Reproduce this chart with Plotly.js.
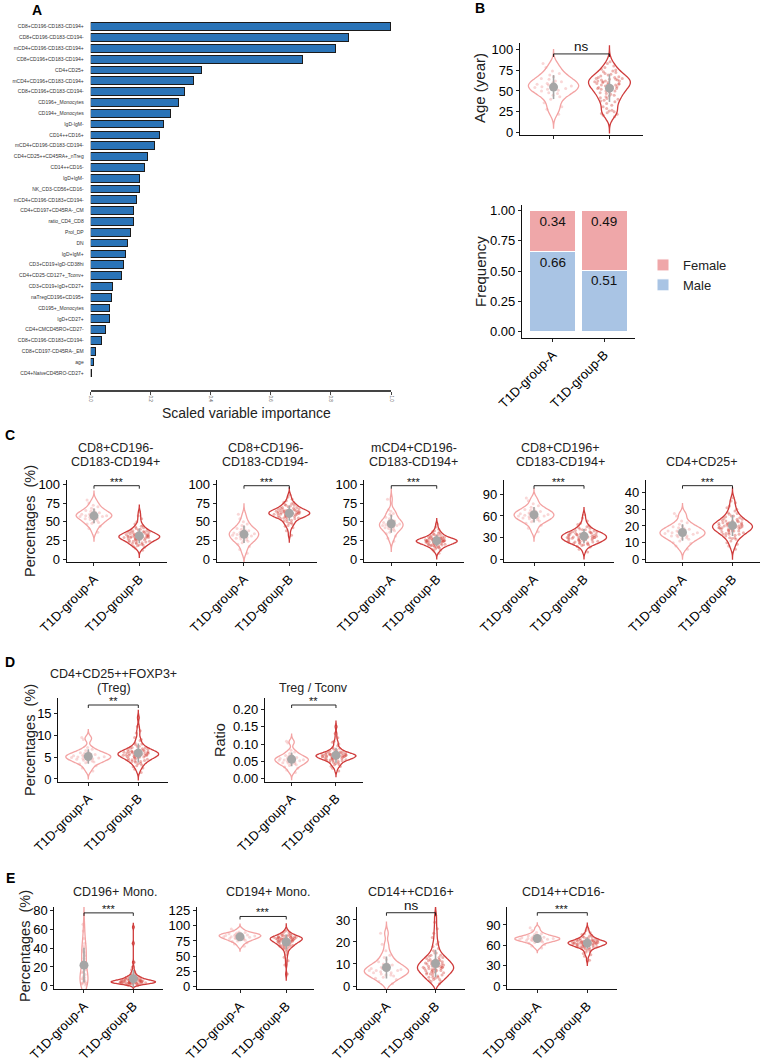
<!DOCTYPE html>
<html><head><meta charset="utf-8">
<script src="https://cdn.plot.ly/plotly-3.0.1.min.js"></script>
<style>html,body{margin:0;padding:0;background:#fff}</style>
</head><body><div id="chart" style="width:767px;height:1064px"></div>
<script>
// ---------------- DATA ----------------
const groups = ['T1D-group-A', 'T1D-group-B'];

const featureNames = ['CD8+CD196-CD183-CD194+','CD8+CD196-CD183-CD194-','mCD4+CD196-CD183-CD194+','CD8+CD196+CD183-CD194+','CD4+CD25+',
 'mCD4+CD196+CD183-CD194+','CD8+CD196+CD183-CD194-','CD196+_Monocytes','CD194+_Monocytes','IgD-IgM-','CD14++CD16+',
 'mCD4+CD196-CD183-CD194-','CD4+CD25++CD45RA+_nTreg','CD14++CD16-','IgD+IgM-','NK_CD3-CD56+CD16-','mCD4+CD196-CD183+CD194-',
 'CD4+CD197+CD45RA-_CM','ratio_CD4_CD8','Prol_DP','DN','IgD+IgM+','CD3+CD19+IgD-CD38hi','CD4+CD25-CD127+_Tconv+',
 'CD3+CD19+IgD+CD27+','naTregCD196+CD195+','CD195+_Monocytes','IgD+CD27+','CD4+CMCD45RO+CD27-','CD8+CD196-CD183+CD194-',
 'CD8+CD197-CD45RA-_EM','age','CD4+NaiveCD45RO-CD27+'];
const importance = [1.00,0.86,0.815,0.705,0.37,0.342,0.312,0.293,0.267,0.243,0.228,0.213,0.19,0.18,0.164,0.163,0.154,
 0.142,0.143,0.131,0.121,0.117,0.11,0.104,0.073,0.069,0.062,0.061,0.05,0.035,0.015,0.008,0.003];

const sexLevels = ['Male', 'Female'];
const maleFreq = [0.66, 0.51];
const femaleFreq = [0.34, 0.49];

const ageA = [22,31,36,40,43,45,47,48,50,51,52,53,54,55,56,57,58,59,60,61,62,64,65,67,69,71,74,78,83,28];
const ageB = [19,21,22,23,24,25,26,27,29,31,33,35,37,38,40,41,42,43,44,45,46,47,48,49,50,51,52,53,54,55,55,56,57,57,58,58,59,59,60,60,61,61,62,62,63,63,64,64,65,65,66,66,67,68,69,70,71,72,73,74,75,76,78,80,83,85,39,50,53,62];

const c1A = [36,41,44,47,49,50,52,53,54,55,56,57,57,58,59,60,61,62,63,64,65,66,68,70,72,75,79,48,60,58];
const c1B = [12,15,17,18,19,20,21,22,22,23,24,24,25,25,26,26,27,27,27,28,28,28,29,29,29,30,30,30,30,31,31,31,32,32,32,33,33,33,34,34,35,35,36,36,37,37,38,39,40,41,42,43,45,47,50,54,58,63,16,19,21,23,26,28,31,34,36,38,44,30];
const c2A = [8,13,17,20,22,24,26,27,29,30,31,32,33,34,35,36,37,38,40,41,43,45,47,50,54,60,28,35,39,25];
const c2B = [32,38,42,45,47,49,50,52,53,54,55,55,56,56,57,57,58,58,59,59,59,60,60,60,61,61,61,62,62,62,63,63,63,64,64,65,65,66,66,67,67,68,68,69,70,71,72,73,74,76,78,80,83,86,44,48,51,54,57,60,62,64,66,69,72,58,61,63,65,75];
const c3A = [24,28,31,34,36,38,40,41,42,43,44,45,46,47,48,49,50,51,52,54,56,58,61,64,60,66,80,39,45,50];
const c3B = [8,11,13,14,15,16,17,18,18,19,19,20,20,21,21,22,22,22,23,23,23,24,24,24,24,25,25,25,25,26,26,26,27,27,27,28,28,29,29,30,30,31,32,33,34,35,36,38,40,43,47,12,16,19,21,23,25,27,29,31,22,24,26,20,28,18,33,37,25,23];
const c4A = [38,43,47,50,52,54,55,57,58,59,60,61,62,63,64,65,66,67,68,70,72,74,77,81,85,56,60,63,53,69];
const c4B = [10,14,17,19,20,21,22,23,24,24,25,25,26,26,27,27,28,28,29,29,30,30,30,31,31,32,32,33,33,34,34,35,35,36,36,37,37,38,38,39,40,41,42,43,44,46,48,50,53,57,62,18,22,26,29,32,35,38,41,24,27,30,33,36,23,28,31,34,45,20];
const c5A = [6,8,9.5,11,12,12.5,13,14,14.5,15,15.5,16,16,16.5,17,17.5,18,18.5,19,20,21,22,23,26,27.5,10,14,17,19.5,13.5];
const c5B = [6,8,10,11,12,13,14,14.5,15,15.5,16,16.5,17,17,17.5,18,18,18.5,19,19,19.5,19.5,20,20,20.5,20.5,21,21,21.5,22,22,22.5,23,23.5,24,24.5,25,26,27,28,29,30,32,34,37,9,12.5,15,17,18.5,20,21.5,23,25.5,13,16,19,22,24,27.5,18,20,21,17,19,23,15,26,31,35];

const d1A = [1.8,2.5,3.0,3.4,3.7,3.9,4.1,4.3,4.5,4.6,4.8,4.9,5.0,5.1,5.2,5.4,5.5,5.6,5.8,6.0,6.2,6.5,6.8,7.2,9.0,9.5,4.0,4.7,5.3,5.9];
const d1B = [1.5,2.2,2.8,3.2,3.5,3.8,4.0,4.2,4.4,4.5,4.7,4.8,5.0,5.0,5.1,5.2,5.3,5.4,5.5,5.5,5.6,5.7,5.8,5.9,6.0,6.0,6.1,6.2,6.3,6.4,6.5,6.6,6.8,7.0,7.2,7.5,7.8,8.2,8.8,9.5,10.5,12.0,14.0,3.0,4.1,4.9,5.6,6.2,7.1,8.0,3.6,4.6,5.3,5.8,6.4,7.4,4.3,5.2,6.0,6.7,2.5,5.5,6.9,4.0,5.0,6.0,9.0,11.0,5.4,6.3];
const d2A = [0.018,0.025,0.030,0.034,0.038,0.041,0.044,0.046,0.048,0.050,0.052,0.053,0.055,0.056,0.058,0.060,0.061,0.063,0.065,0.067,0.070,0.073,0.077,0.082,0.103,0.108,0.045,0.054,0.059,0.040];
const d2B = [0.022,0.030,0.036,0.040,0.044,0.047,0.050,0.052,0.054,0.056,0.058,0.059,0.060,0.061,0.062,0.063,0.064,0.065,0.066,0.067,0.068,0.069,0.070,0.071,0.072,0.073,0.075,0.077,0.079,0.081,0.083,0.086,0.090,0.095,0.100,0.108,0.118,0.130,0.150,0.040,0.048,0.055,0.060,0.065,0.070,0.075,0.082,0.052,0.058,0.063,0.068,0.073,0.060,0.065,0.070,0.035,0.045,0.057,0.066,0.078,0.088,0.062,0.067,0.071,0.056,0.064,0.069,0.074,0.053,0.105];

const e1A = [1,2,2.5,3,3.5,4,5,6,7,8,10,12,14,17,20,23,26,29,32,35,38,40,42,45,50,58,65,9,15,36];
const e1B = [0.5,1,1.5,2,2,2.5,2.5,3,3,3,3.5,3.5,3.5,4,4,4,4,4.5,4.5,4.5,5,5,5,5.5,5.5,6,6,6,6.5,7,7,7.5,8,8,8.5,9,9.5,10,10.5,11,12,13,14,15,17,20,25,45,62,2,3,4,5,6,7,8,9,3,4,5,6,3.5,4.5,5.5,2.5,4,6.5,1.5,10,5];
const e2A = [66,70,72,74,76,77,78,79,80,80,81,82,82,83,84,84,85,85,86,86,87,87,88,89,90,92,95,75,83,79];
const e2B = [20,35,42,48,52,55,58,60,62,63,64,65,66,67,68,69,70,70,71,72,72,73,74,74,75,75,76,76,77,77,78,78,78,79,79,79,80,80,80,81,81,81,82,82,83,83,84,84,85,86,87,88,89,91,93,66,70,73,76,78,80,82,74,77,79,81,75,68,84,72];
const e3A = [1,2,3,3.5,4,4.5,5,5.5,6,6,6.5,7,7,7.5,8,8,8.5,9,9.5,10,11,12,13,14,16,19,24,5,7,10];
const e3B = [1,2,2.5,3,3.5,4,4.5,5,5.5,6,6,6.5,7,7,7.5,7.5,8,8,8.5,8.5,9,9,9.5,10,10,10.5,11,11,11.5,12,12.5,13,13.5,14,15,16,17,18,19,20,22,24,26,29,32,3,5,7,9,11,13,15,4,6,8,10,12,5.5,7,8.5,10,6.5,9,11.5,4,8,14,2,12,9.5];
const e4A = [56,59,61,63,64,65,66,67,67,68,68,69,69,70,70,71,71,72,72,73,74,75,76,77,79,82,86,66,70,73];
const e4B = [38,44,48,51,53,54,55,56,57,58,58,59,59,60,60,61,61,61,62,62,62,63,63,63,64,64,64,65,65,65,66,66,66,67,67,68,68,69,69,70,71,72,73,74,75,77,79,82,85,50,56,60,63,66,70,57,62,65,68,59,64,61,67,63,46,72,58,65,62,76];

const violinSets = [[ageA,ageB],[c1A,c1B],[c2A,c2B],[c3A,c3B],[c4A,c4B],[c5A,c5B],[d1A,d1B],[d2A,d2B],[e1A,e1B],[e2A,e2B],[e3A,e3B],[e4A,e4B]];
const sigLabels = ['ns','***','***','***','***','***','**','**','***','***','ns','***'];
const sigHeights = [94.4, 98.1, 98.1, 98.1, 101.9, 44.2, 16.9, 0.2124, 77, 115.6, 33.3, 108.1];
const panelTitles = [[], ['CD8+CD196-','CD183-CD194+'], ['CD8+CD196-','CD183-CD194-'], ['mCD4+CD196-','CD183-CD194+'],
  ['CD8+CD196+','CD183-CD194+'], ['CD4+CD25+'], ['CD4+CD25++FOXP3+','(Treg)'], ['Treg / Tconv'],
  ['CD196+ Mono.'], ['CD194+ Mono.'], ['CD14++CD16+'], ['CD14++CD16-']];

// ---------------- LAYOUT (positions / styles) ----------------
const W = 767, H = 1064;
const FONT = 'Liberation Sans, Arial, Helvetica, sans-serif';
const fx = p => p / W, fy = p => 1 - p / H;
const COL_A = '#F3A3A3', COL_B = '#CF3B3B', PT_A = '#F19A9A', PT_B = '#D5473F', GREY = '#A6A6A6';

const vp = [
  {box:[520,643,43,135],       xr:[-0.6,1.6],   yr:[-2.8,107.5],    dt:25,   tx:0,   ty:0,   xl:false},
  {box:[66.8,166.5,480,562.3], xr:[-0.6,1.6],   yr:[-4,105.7],      dt:25,   tx:115, ty:462, xl:true},
  {box:[216.8,316.5,480,562.3],xr:[-0.6,1.6],   yr:[-4,105.7],      dt:25,   tx:265, ty:462, xl:true},
  {box:[364,464,480,562.3],    xr:[-0.6,1.6],   yr:[-4,105.7],      dt:25,   tx:414, ty:462, xl:true},
  {box:[504,614,480,562.3],    xr:[-0.6,1.6],   yr:[-4.2,109.8],    dt:30,   tx:560, ty:462, xl:true},
  {box:[646,760,480,562.3],    xr:[-0.73,1.55], yr:[-1.8,47.6],     dt:10,   tx:702, ty:462, xl:true},
  {box:[58.3,168.3,698,781.7], xr:[-0.6,1.6],   yr:[-0.62,18.5],    dt:5,    tx:114, ty:688, xl:true},
  {box:[265,362.6,698,781.7],  xr:[-0.6,1.6],   yr:[-0.0086,0.2326],dt:0.05, tx:313, ty:688, xl:true, fmt:'.2f'},
  {box:[54.4,162.9,907,989.3], xr:[-0.6,1.6],   yr:[-3.5,83.2],     dt:20,   tx:115, ty:892, xl:true},
  {box:[197,314,907,989.3],    xr:[-0.93,1.6],  yr:[-5.2,131.3],    dt:25,   tx:268, ty:892, xl:true},
  {box:[357,465,907,989.3],    xr:[-0.6,1.6],   yr:[-1.5,35.9],     dt:10,   tx:411, ty:892, xl:true},
  {box:[507.3,617.3,907,989.3],xr:[-0.6,1.6],   yr:[-4.9,116.5],    dt:30,   tx:563, ty:892, xl:true}
];

function bwNrd0(arr){
  const n = arr.length, s = [...arr].sort((a,b)=>a-b);
  const m = arr.reduce((a,b)=>a+b,0)/n;
  const sd = Math.sqrt(arr.reduce((a,b)=>a+(b-m)*(b-m),0)/(n-1));
  const q = p => { const h=(n-1)*p, lo=Math.floor(h); return s[lo] + (h-lo)*(s[Math.min(lo+1,n-1)]-s[lo]); };
  let lo = Math.min(sd, (q(0.75)-q(0.25))/1.34); if (!(lo > 0)) lo = sd || 1;
  return 0.9 * lo * Math.pow(n, -0.2);
}
function kdeMax(arr, h){
  const lo = Math.min(...arr) - 3*h, hi = Math.max(...arr) + 3*h; let best = 0;
  for (let i = 0; i <= 300; i++) {
    const x = lo + (hi-lo)*i/300; let s = 0;
    for (const v of arr) { const z = (x-v)/h; s += Math.exp(-0.5*z*z); }
    s /= arr.length * h * Math.sqrt(2*Math.PI); if (s > best) best = s;
  }
  return best;
}
function meanSd(arr){
  const n = arr.length, m = arr.reduce((a,b)=>a+b,0)/n;
  return {m, sd: Math.sqrt(arr.reduce((a,b)=>a+(b-m)*(b-m),0)/(n-1))};
}

const traces = [], annotations = [], shapes = [];
const axLine = {showline:true, linecolor:'#111', linewidth:1.1, ticks:'outside', ticklen:3, tickwidth:1, tickcolor:'#222',
                showgrid:false, zeroline:false, fixedrange:true};

const layout = {
  width:W, height:H, margin:{l:0,r:0,t:0,b:0}, paper_bgcolor:'#fff', plot_bgcolor:'rgba(0,0,0,0)',
  font:{family:FONT, color:'#000'}, barmode:'stack', showlegend:true,
  legend:{x:fx(643), y:fy(250), xanchor:'left', yanchor:'top', traceorder:'reversed', font:{size:13, color:'#222'},
          bgcolor:'rgba(0,0,0,0)', itemclick:false, tracegroupgap:0}
};

// Panel A: variable importance
traces.push({type:'bar', orientation:'h', x:importance, y:featureNames, xaxis:'x', yaxis:'y', width:0.72,
  marker:{color:'#2A74B8', line:{color:'#1b1b1b', width:1}}, showlegend:false, hoverinfo:'skip'});
layout.xaxis = Object.assign({}, axLine, {domain:[fx(90.7), fx(391)], anchor:'y', range:[0,1], dtick:0.2, tick0:0,
  tickformat:'.1f', tickangle:90, tickfont:{size:4.5, color:'#555'}, linecolor:'#444', linewidth:1.5, tickcolor:'#444'});
layout.yaxis = {domain:[fy(390), fy(20)], anchor:'x', type:'category', categoryorder:'array', categoryarray:featureNames,
  range:[33.58,-0.62], tickmode:'linear', tick0:0, dtick:1, ticks:'', showline:false, showgrid:false, zeroline:false,
  ticklabelstandoff:6, tickfont:{size:5, color:'#333'}, fixedrange:true};

// Panel B bottom: sex frequency (stacked)
[[maleFreq,'#A9C4E4'],[femaleFreq,'#EFA7A9']].forEach(([vals,col], s) => traces.push({type:'bar', name:sexLevels[s],
  x:groups, y:vals, xaxis:'x2', yaxis:'y2', width:0.9, marker:{color:col, line:{color:'#fff', width:1}},
  text:vals.map(v=>v.toFixed(2)), textposition:'inside', insidetextanchor:'end', textangle:0,
  textfont:{size:13.5, color:'#111'}, hoverinfo:'skip'}));
layout.xaxis2 = Object.assign({}, axLine, {domain:[fx(522), fx(635)], anchor:'y2', type:'category', categoryorder:'array',
  categoryarray:groups, range:[-0.6,1.6], tickangle:-45, tickfont:{size:13}});
layout.yaxis2 = Object.assign({}, axLine, {domain:[fy(338), fy(204.5)], anchor:'x2', range:[-0.05,1.05],
  tickvals:[0,0.25,0.5,0.75,1], tickformat:'.2f', tickfont:{size:13}});

// Violin panels
violinSets.forEach((pair, i) => {
  const k = i + 3, xa = 'x' + k, ya = 'y' + k, P = vp[i];
  const bws = pair.map(bwNrd0), peaks = pair.map((a, g) => kdeMax(a, bws[g]));
  const pmax = Math.max(...peaks);
  pair.forEach((arr, g) => {
    const h = bws[g], mn = Math.min(...arr), mx = Math.max(...arr);
    traces.push({type:'violin', y:arr, name:groups[g], xaxis:xa, yaxis:ya, orientation:'v',
      line:{color: g ? COL_B : COL_A, width:1.3}, fillcolor:'rgba(255,255,255,0)',
      points:'all', pointpos:0, jitter:0.8, marker:{size:3, color: g ? PT_B : PT_A, opacity:0.4, line:{width:0}},
      box:{visible:false}, meanline:{visible:false}, bandwidth:h, spanmode:'manual', span:[mn-3*h, mx+3*h],
      scalegroup:'sg'+k+'_'+g, scalemode:'width', width:0.9*peaks[g]/pmax, showlegend:false, hoverinfo:'skip'});
  });
  const st = pair.map(meanSd);
  traces.push({type:'scatter', mode:'markers', x:groups, y:st.map(s=>s.m), xaxis:xa, yaxis:ya,
    error_y:{type:'data', array:st.map(s=>s.sd), visible:true, color:GREY, thickness:1.6, width:0},
    marker:{size:9, color:GREY}, showlegend:false, hoverinfo:'skip', cliponaxis:false});
  const [x0,x1,yt,yb] = P.box;
  layout['xaxis'+k] = Object.assign({}, axLine, {domain:[fx(x0), fx(x1)], anchor:ya, type:'category', categoryorder:'array',
    categoryarray:groups, range:P.xr, tickangle:-45, tickfont:{size:13}, showticklabels:P.xl});
  layout['yaxis'+k] = Object.assign({}, axLine, {domain:[fy(yb), fy(yt)], anchor:xa, range:P.yr, dtick:P.dt, tick0:0,
    tickformat:P.fmt || '', tickfont:{size:13}});
  const sh = sigHeights[i], lc = {color:'#111', width:0.9};
  shapes.push({type:'line', xref:xa, yref:ya, x0:0, x1:1, y0:sh, y1:sh, line:lc});
  [0,1].forEach(xx => shapes.push({type:'line', xref:xa, yref:ya, x0:xx, x1:xx, ysizemode:'pixel', yanchor:sh, y0:-3, y1:0, line:lc}));
  const isNs = sigLabels[i] === 'ns';
  annotations.push({xref:xa, yref:ya, x:0.5, y:sh, text:sigLabels[i], showarrow:false, yanchor:'bottom',
    yshift: isNs ? -2 : -4, font:{size: isNs ? 13.5 : 11, color:'#111'}});
  const tl = panelTitles[i];
  tl.forEach((t, j) => annotations.push({xref:'paper', yref:'paper', x:fx(P.tx), y:fy(P.ty - (tl.length-1-j)*14),
    text:t, showarrow:false, xanchor:'center', yanchor:'middle', font:{size:12.5, color:'#222'}}));
});

function txt(x, y, t, size, opts){ annotations.push(Object.assign({xref:'paper', yref:'paper', x:fx(x), y:fy(y), text:t,
  showarrow:false, xanchor:'center', yanchor:'middle', font:{size:size, color:'#222'}}, opts||{})); }
const bold = {font:{size:14, color:'#000'}};
txt(37, 10, '<b>A</b>', 14, bold);
txt(480, 8, '<b>B</b>', 14, bold);
txt(10, 435, '<b>C</b>', 14, bold);
txt(10, 662, '<b>D</b>', 14, bold);
txt(10, 878, '<b>E</b>', 14, bold);
txt(246, 413, 'Scaled variable importance', 14);
txt(480, 88, 'Age (year)', 15, {textangle:-90});
txt(480, 272, 'Frequency', 15, {textangle:-90});
txt(30, 521, 'Percentages&nbsp; (%)', 14.5, {textangle:-90});
txt(30, 740, 'Percentages&nbsp; (%)', 14.5, {textangle:-90});
txt(220, 740, 'Ratio', 14.5, {textangle:-90});
txt(25, 946, 'Percentages&nbsp; (%)', 14.5, {textangle:-90});

layout.annotations = annotations;
layout.shapes = shapes;

Plotly.newPlot('chart', traces, layout, {staticPlot:true, displayModeBar:false});
</script>
</body></html>
